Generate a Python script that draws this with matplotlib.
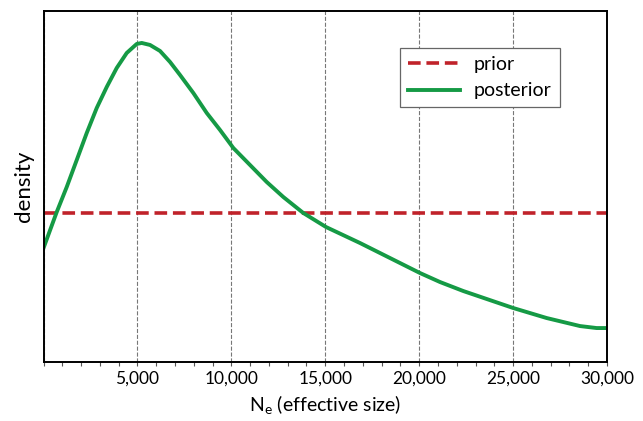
import matplotlib.pyplot as plt
import matplotlib.ticker as mticker
import numpy as np

plt.rcParams['font.family'] = ['Lato', 'DejaVu Sans']

# posterior density (arbitrary units)
ne = [0, 703, 1235, 1768, 2300, 2832, 3365, 3897, 4430, 4962, 5228, 5670,
      6202, 6735, 7267, 7975, 8332, 8689, 9397, 10105, 10994, 11883,
      12767, 13832, 15040, 16850, 18447, 20044, 21110, 22350,
      25012, 26790, 28563, 29450, 30000]
posterior = [1.14, 1.50, 1.75, 2.02, 2.29, 2.54, 2.75, 2.94, 3.09, 3.18, 3.19,
             3.17, 3.11, 3.00, 2.87, 2.69, 2.59, 2.49, 2.32, 2.14, 1.97,
             1.80, 1.65, 1.49, 1.35, 1.19, 1.04, 0.89, 0.80, 0.71,
             0.54, 0.44, 0.36, 0.34, 0.34]
prior_x = [0, 30000]
prior = [1.49, 1.49]

fig = plt.figure(figsize=(6.43, 4.21), dpi=100)
ax = fig.add_axes([0.0677, 0.140, 0.8763, 0.834])

ax.plot(prior_x, prior, color='#c0222a', lw=2.6, dashes=(3.5, 1.6), label='prior')
ax.plot(ne, posterior, color='#159a45', lw=2.8, label='posterior')

ax.set_xlim(0, 30000)
ax.set_ylim(0, 3.51)
ax.set_yticks([])
ax.xaxis.set_major_locator(mticker.MultipleLocator(5000))
ax.xaxis.set_minor_locator(mticker.MultipleLocator(1000))
ax.xaxis.set_major_formatter(mticker.FuncFormatter(lambda v, p: f'{int(v):,}' if v > 0 else ''))
ax.tick_params(axis='x', which='both', length=3, width=0.8, color='#555555', labelsize=12.5)
ax.grid(axis='x', which='major', color='#777777', ls='--', lw=0.8)
for s in ax.spines.values():
    s.set_linewidth(1.4)

ax.set_xlabel(r'N$_\mathregular{e}$ (effective size)', fontsize=14, labelpad=5)
ax.set_ylabel('density', fontsize=16, labelpad=7)

leg = ax.legend(loc='upper left', bbox_to_anchor=(0.633, 0.895), fontsize=14,
                fancybox=False, edgecolor='#666666', framealpha=1, borderaxespad=0,
                handlelength=2.7, handletextpad=0.7, borderpad=0.4, labelspacing=0.5)
leg.get_frame().set_linewidth(0.9)

fig.savefig('out.png', dpi=100)
